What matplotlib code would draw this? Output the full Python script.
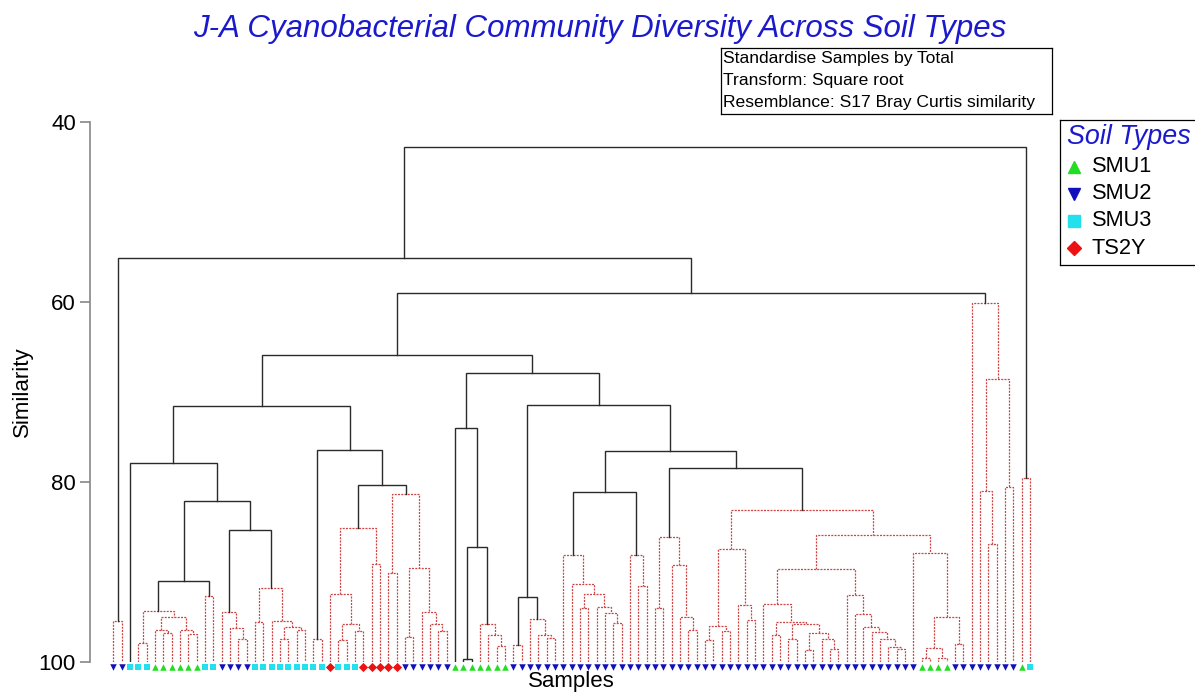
import matplotlib.pyplot as plt

plt.rcParams['font.family'] = ['Liberation Sans', 'DejaVu Sans']

# soil type of each sample, in dendrogram order (A=SMU1, B=SMU2, C=SMU3, D=TS2Y)
sample_types = ("BBCCCAAAAAACCBBBBCCCCCCCCCDCCCDDDDDBBBBBBAAAAAAA"
                "BBBBBBBBBBBBBBBBBBBBBBBBBBBBBBBBBBBBBBBBBBBBBBBBB"
                "AAAABBBBBBBBAC")
type_names = ['SMU1', 'SMU2', 'SMU3', 'TS2Y']
type_codes = ['A', 'B', 'C', 'D']
type_markers = ['^', 'v', 's', 'D']
type_colors = ['#22dd22', '#1111bb', '#22e0ee', '#ee1111']

# merges: name, left, right, similarity, significant (solid)
merges = [
    ("a01", 0, 1, 95.4, 0),
    ("a34", 3, 4, 97.9, 0),
    ("a67", 6, 7, 96.8, 0),
    ("a5", 5, "a67", 96.4, 0),
    ("a910", 9, 10, 96.9, 0),
    ("a8", 8, "a910", 96.4, 0),
    ("agrn", "a5", "a8", 95.0, 0),
    ("a3g", "a34", "agrn", 94.3, 0),
    ("a1112", 11, 12, 92.7, 0),
    ("k91", "a3g", "a1112", 91.0, 1),
    ("a1516", 15, 16, 97.4, 0),
    ("a14", 14, "a1516", 96.2, 0),
    ("a13", 13, "a14", 94.4, 0),
    ("a1718", 17, 18, 95.6, 0),
    ("a2021", 20, 21, 97.4, 0),
    ("a2223", 22, 23, 96.4, 0),
    ("a2023", "a2021", "a2223", 96.1, 0),
    ("a19", 19, "a2023", 95.4, 0),
    ("a1723", "a1718", "a19", 91.8, 0),
    ("k853", "a13", "a1723", 85.3, 1),
    ("k821", "k91", "k853", 82.1, 1),
    ("k779", 2, "k821", 77.9, 1),
    ("a2425", 24, 25, 97.4, 0),
    ("a2728", 27, 28, 97.5, 0),
    ("a2930", 29, 30, 96.6, 0),
    ("a2730", "a2728", "a2930", 95.8, 0),
    ("a26", 26, "a2730", 92.4, 0),
    ("a3132", 31, 32, 89.1, 0),
    ("a851", "a26", "a3132", 85.1, 0),
    ("a3334", 33, 34, 90.1, 0),
    ("a3536", 35, 36, 97.2, 0),
    ("a3940", 39, 40, 96.6, 0),
    ("a38", 38, "a3940", 95.8, 0),
    ("a37", 37, "a38", 94.4, 0),
    ("a3540", "a3536", "a37", 89.5, 0),
    ("a813", "a3334", "a3540", 81.3, 0),
    ("k803", "a851", "a813", 80.3, 1),
    ("k764", "a2425", "k803", 76.4, 1),
    ("k716", "k779", "k764", 71.6, 1),
    ("a4243", 42, 43, 99.7, 1),
    ("a4647", 46, 47, 98.2, 0),
    ("a45", 45, "a4647", 97.0, 0),
    ("a44", 44, "a45", 95.8, 0),
    ("k872", "a4243", "a44", 87.2, 1),
    ("k740", 41, "k872", 74.0, 1),
    ("a4849", 48, 49, 98.1, 0),
    ("a5253", 52, 53, 97.3, 0),
    ("a51", 51, "a5253", 97.0, 0),
    ("a50", 50, "a51", 95.2, 0),
    ("k928", "a4849", "a50", 92.8, 1),
    ("a6061", 60, 61, 95.7, 0),
    ("a59", 59, "a6061", 94.5, 0),
    ("a58", 58, "a59", 93.9, 0),
    ("a5657", 56, 57, 94.0, 0),
    ("a5661", "a5657", "a58", 92.4, 0),
    ("a55", 55, "a5661", 91.3, 0),
    ("a54", 54, "a55", 88.1, 0),
    ("a6364", 63, 64, 91.5, 0),
    ("a62", 62, "a6364", 88.1, 0),
    ("k811", "a54", "a62", 81.1, 1),
    ("a6566", 65, 66, 94.0, 0),
    ("a6970", 69, 70, 96.4, 0),
    ("a68", 68, "a6970", 95.0, 0),
    ("a67b", 67, "a68", 89.2, 0),
    ("a861", "a6566", "a67b", 86.1, 0),
    ("a7172", 71, 72, 97.6, 0),
    ("a7374", 73, 74, 96.6, 0),
    ("a7174", "a7172", "a7374", 96.0, 0),
    ("a7677", 76, 77, 95.3, 0),
    ("a75", 75, "a7677", 93.7, 0),
    ("a874", "a7174", "a75", 87.4, 0),
    ("a7980", 79, 80, 97.0, 0),
    ("a8182", 81, 82, 97.4, 0),
    ("a8384", 83, 84, 98.7, 0),
    ("a8687", 86, 87, 98.5, 0),
    ("a85", 85, "a8687", 97.4, 0),
    ("a8387", "a8384", "a85", 96.8, 0),
    ("a8187", "a8182", "a8387", 95.8, 0),
    ("a7987", "a7980", "a8187", 95.6, 0),
    ("a78", 78, "a7987", 93.5, 0),
    ("a9495", 94, 95, 98.6, 0),
    ("a93", 93, "a9495", 98.3, 0),
    ("a92", 92, "a93", 97.4, 0),
    ("a91", 91, "a92", 96.7, 0),
    ("a90", 90, "a91", 96.1, 0),
    ("a89", 89, "a90", 94.7, 0),
    ("a88", 88, "a89", 92.6, 0),
    ("a897", "a78", "a88", 89.7, 0),
    ("a9798", 97, 98, 99.6, 0),
    ("a99100", 99, 100, 99.6, 0),
    ("a97100", "a9798", "a99100", 98.4, 0),
    ("a101102", 101, 102, 98.0, 0),
    ("a97102", "a97100", "a101102", 95.0, 0),
    ("a879", 96, "a97102", 87.9, 0),
    ("a859", "a897", "a879", 85.9, 0),
    ("a831", "a874", "a859", 83.1, 0),
    ("k784", "a861", "a831", 78.4, 1),
    ("k766", "k811", "k784", 76.6, 1),
    ("k714", "k928", "k766", 71.4, 1),
    ("k679", "k740", "k714", 67.9, 1),
    ("k659", "k716", "k679", 65.9, 1),
    ("a105106", 105, 106, 86.9, 0),
    ("a104", 104, "a105106", 81.0, 0),
    ("a107108", 107, 108, 80.5, 0),
    ("a104108", "a104", "a107108", 68.6, 0),
    ("a103", 103, "a104108", 60.1, 0),
    ("k590", "k659", "a103", 59.0, 1),
    ("k551", "a01", "k590", 55.1, 1),
    ("a109110", 109, 110, 79.6, 0),
    ("root", "k551", "a109110", 42.8, 1),
]

W, H = 1195, 696
fig = plt.figure(figsize=(W / 100, H / 100), dpi=100)
ax = fig.add_axes([90 / W, 1 - 662 / H, 950 / W, 540 / H])

n = len(sample_types)
xpos = {i: i for i in range(n)}
hgt = {i: 100.0 for i in range(n)}
for name, l, r, s, sig in merges:
    xl, xr = xpos[l], xpos[r]
    if sig:
        ax.plot([xl, xl, xr, xr], [hgt[l], s, s, hgt[r]], color='#2a2a2a',
                lw=1.0, zorder=3, solid_joinstyle='miter')
    else:
        ax.plot([xl, xl, xr, xr], [hgt[l], s, s, hgt[r]], color='#cc4444',
                lw=0.9, ls=(0, (1.6, 1.0)), zorder=2)
    xpos[name] = (xl + xr) / 2
    hgt[name] = s

for code, m, c in zip(type_codes, type_markers, type_colors):
    idx = [i for i, t in enumerate(sample_types) if t == code]
    ax.scatter(idx, [100.5] * len(idx), marker=m, s=15 if m == 's' else 22,
               color=c, linewidths=0, clip_on=False, zorder=4)

ax.set_ylim(100, 40)
ax.set_xlim(-2.8, 111.2)
ax.set_yticks([40, 60, 80, 100])
ax.set_xticks([])
for sp in ['top', 'right', 'bottom']:
    ax.spines[sp].set_visible(False)
ax.spines['left'].set_color('#888888')
ax.spines['left'].set_linewidth(1.2)
ax.tick_params(axis='y', length=7.2, width=1.2, color='#888888', labelsize=16, pad=3)
ax.set_ylabel('Similarity', fontsize=16)
ax.yaxis.set_label_coords(-0.06, 0.5)

fig.text(571 / W, 1 - 682 / H, 'Samples', ha='center', va='center', fontsize=16)
fig.text(600 / W, 1 - 37 / H, 'J-A Cyanobacterial Community Diversity Across Soil Types',
         ha='center', va='baseline', fontsize=22.5, style='italic', color='#1a1acc')

# info box
bx = fig.add_axes([720.7 / W, 1 - 114 / H, 331 / W, 66 / H])
bx.set_xticks([])
bx.set_yticks([])
for sp in bx.spines.values():
    sp.set_linewidth(0.9)
info_lines = ['Standardise Samples by Total', 'Transform: Square root',
              'Resemblance: S17 Bray Curtis similarity']
for k, line in enumerate(info_lines):
    bx.text(0.008, 0.844 - 0.337 * k, line, transform=bx.transAxes,
            ha='left', va='center', fontsize=12.6)

# legend
lx = fig.add_axes([1060 / W, 1 - 265 / H, 140 / W, 145 / H])
lx.set_xlim(0, 140)
lx.set_ylim(145, 0)
lx.set_xticks([])
lx.set_yticks([])
for sp in lx.spines.values():
    sp.set_linewidth(0.9)
lx.text(7, 17, 'Soil Types', ha='left', va='center', fontsize=19.4,
        style='italic', color='#1a1acc')
for k, (nm, m, c) in enumerate(zip(type_names, type_markers, type_colors)):
    yy = 46.7 + 27.1 * k
    lx.plot([14], [yy], marker=m, ms=8 if m != 'D' else 7, color=c, ls='none')
    lx.text(31.7, yy, nm, ha='left', va='center', fontsize=15.7)

fig.savefig('out.png', dpi=100)
